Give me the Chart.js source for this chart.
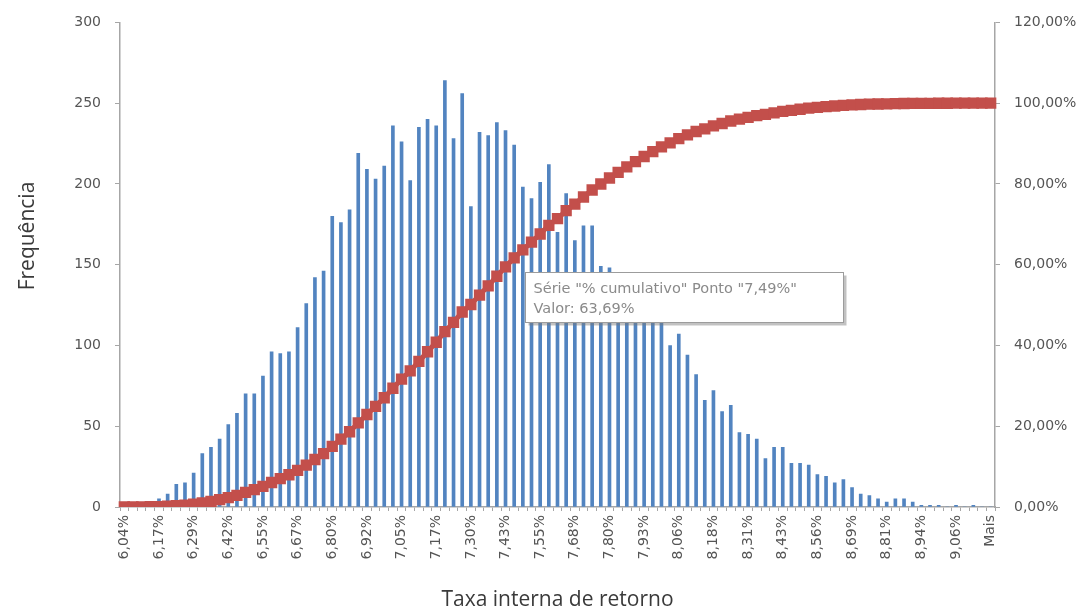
<!DOCTYPE html>
<html>
<head>
<meta charset="utf-8">
<script src="https://cdn.jsdelivr.net/npm/chart.js@4.4.1/dist/chart.umd.min.js"></script>
<style>
  html, body { margin: 0; padding: 0; background: #ffffff; }
  #wrap { width: 1089px; height: 611px; }
</style>
</head>
<body>
<div id="wrap"><canvas id="c" width="1089" height="611"></canvas></div>
<script>
// Histogram bins of the internal rate of return (last bin = "Mais")
const categories = [
  '6,04%','6,07%','6,11%','6,14%','6,17%','6,20%','6,23%','6,26%','6,29%','6,33%',
  '6,36%','6,39%','6,42%','6,45%','6,48%','6,51%','6,55%','6,58%','6,61%','6,64%',
  '6,67%','6,70%','6,73%','6,77%','6,80%','6,83%','6,86%','6,89%','6,92%','6,95%',
  '6,99%','7,02%','7,05%','7,08%','7,11%','7,14%','7,17%','7,21%','7,24%','7,27%',
  '7,30%','7,33%','7,36%','7,40%','7,43%','7,46%','7,49%','7,52%','7,55%','7,58%',
  '7,62%','7,65%','7,68%','7,71%','7,74%','7,77%','7,80%','7,84%','7,87%','7,90%',
  '7,93%','7,96%','7,99%','8,02%','8,06%','8,09%','8,12%','8,15%','8,18%','8,21%',
  '8,24%','8,28%','8,31%','8,34%','8,37%','8,40%','8,43%','8,46%','8,50%','8,53%',
  '8,56%','8,59%','8,62%','8,65%','8,69%','8,72%','8,75%','8,78%','8,81%','8,84%',
  '8,87%','8,91%','8,94%','8,97%','9,00%','9,03%','9,06%','9,09%','9,13%','9,16%',
  'Mais'
];

// Frequency of each bin
const frequencia = [
  1, 0, 2, 3, 5, 8, 14, 15, 21, 33,
  37, 42, 51, 58, 70, 70, 81, 96, 95, 96,
  111, 126, 142, 146, 180, 176, 184, 219, 209, 203,
  211, 236, 226, 202, 235, 240, 236, 264, 228, 256,
  186, 232, 230, 238, 233, 224, 198, 191, 201, 212,
  170, 194, 165, 174, 174, 149, 148, 140, 136, 131,
  126, 120, 116, 100, 107, 94, 82, 66, 72, 59,
  63, 46, 45, 42, 30, 37, 37, 27, 27, 26,
  20, 19, 15, 17, 12, 8, 7, 5, 3, 5,
  5, 3, 1, 1, 1, 0, 1, 0, 1, 0,
  0
];

// "% cumulativo" of each bin
const cumulativo = [
  0.01, 0.01, 0.03, 0.06, 0.11, 0.19, 0.33, 0.48, 0.69, 1.02,
  1.39, 1.81, 2.32, 2.90, 3.60, 4.30, 5.11, 6.07, 7.02, 7.98,
  9.09, 10.35, 11.77, 13.23, 15.03, 16.79, 18.63, 20.82, 22.91, 24.94,
  27.05, 29.41, 31.67, 33.69, 36.04, 38.44, 40.80, 43.44, 45.72, 48.28,
  50.14, 52.46, 54.76, 57.14, 59.47, 61.71, 63.69, 65.60, 67.61, 69.73,
  71.43, 73.37, 75.02, 76.76, 78.50, 79.99, 81.47, 82.87, 84.23, 85.54,
  86.80, 88.00, 89.16, 90.16, 91.23, 92.17, 92.99, 93.65, 94.37, 94.96,
  95.59, 96.05, 96.50, 96.92, 97.22, 97.59, 97.96, 98.23, 98.50, 98.76,
  98.96, 99.15, 99.30, 99.47, 99.59, 99.67, 99.74, 99.79, 99.82, 99.87,
  99.92, 99.95, 99.96, 99.97, 99.98, 99.98, 99.99, 99.99, 100.00, 100.00,
  100.00
];

// Point highlighted by the data tip
const destaque = 46;

const TICK_COLOR = '#555555';
const AXIS_COLOR = '#a6a6a6';
const TICK_FONT = { family: '"DejaVu Sans", sans-serif', size: 14 };

function pct(v) {
  return v.toFixed(2).replace('.', ',') + '%';
}

// Static data tip next to the highlighted cumulative point
const dataTip = {
  id: 'dataTip',
  afterDraw(chart) {
    const pt = chart.getDatasetMeta(1).data[destaque];
    if (!pt) return;
    const ctx = chart.ctx;
    const x = Math.round(pt.x + 2) + 0.5;
    const y = Math.round(pt.y + 22) + 0.5;
    const w = 318, h = 50;
    ctx.save();
    ctx.fillStyle = 'rgba(120,120,120,0.45)';
    ctx.fillRect(x + 3, y + 3, w, h);
    ctx.fillStyle = '#ffffff';
    ctx.fillRect(x, y, w, h);
    ctx.strokeStyle = '#9c9c9c';
    ctx.lineWidth = 1;
    ctx.strokeRect(x, y, w, h);
    ctx.fillStyle = '#8a8a8a';
    ctx.font = '14.5px "DejaVu Sans", sans-serif';
    ctx.textBaseline = 'alphabetic';
    ctx.fillText('S\u00e9rie "% cumulativo" Ponto "' + categories[destaque] + '"', x + 8, y + 20);
    ctx.fillText('Valor: ' + pct(cumulativo[destaque]), x + 8, y + 40);
    ctx.restore();
  }
};

// Left axis title, drawn a little above the plot centre
const freqTitle = {
  id: 'freqTitle',
  afterDraw(chart) {
    const ctx = chart.ctx;
    ctx.save();
    ctx.translate(28, 236);
    ctx.rotate(-Math.PI / 2);
    ctx.fillStyle = '#3a3a3a';
    ctx.font = '21px "Open Sans", sans-serif';
    ctx.textAlign = 'center';
    ctx.textBaseline = 'middle';
    ctx.fillText('Frequ\u00eancia', 0, 0);
    ctx.restore();
  }
};

new Chart(document.getElementById('c'), {
  data: {
    labels: categories,
    datasets: [
      {
        type: 'bar',
        label: 'Frequência',
        data: frequencia,
        yAxisID: 'y',
        backgroundColor: '#5284c0',
        borderWidth: 0,
        barThickness: 3,
        order: 2
      },
      {
        type: 'line',
        label: '% cumulativo',
        data: cumulativo,
        yAxisID: 'y1',
        borderColor: '#c0504d',
        borderWidth: 5,
        pointStyle: 'rect',
        pointRadius: 8,
        pointBackgroundColor: '#c34f4b',
        pointBorderColor: '#c34f4b',
        pointBorderWidth: 0,
        tension: 0,
        order: 1
      }
    ]
  },
  options: {
    responsive: false,
    animation: false,
    layout: { padding: { top: 22, left: 0, right: 0, bottom: 0 } },
    plugins: {
      legend: { display: false },
      tooltip: { enabled: false }
    },
    scales: {
      x: {
        offset: true,
        grid: { display: true, drawOnChartArea: false, drawTicks: true, tickLength: 4, color: AXIS_COLOR, offset: true },
        border: { display: true, color: AXIS_COLOR, width: 1.5 },
        ticks: {
          autoSkip: false,
          maxRotation: 90,
          minRotation: 90,
          padding: 4,
          color: TICK_COLOR,
          font: TICK_FONT,
          callback: function (v, i) { return i % 4 === 0 ? categories[i] : ''; }
        },
        title: {
          display: true,
          text: 'Taxa interna de retorno',
          color: '#3a3a3a',
          font: { family: '"Open Sans", sans-serif', size: 21, lineHeight: 1 },
          padding: { top: 0, bottom: 0 }
        },
        afterFit: function (s) { s.height = 104; }
      },
      y: {
        position: 'left',
        min: 0,
        max: 300,
        ticks: {
          stepSize: 50,
          padding: 14,
          color: TICK_COLOR,
          font: TICK_FONT
        },
        grid: { drawOnChartArea: false, drawTicks: true, tickLength: 5, color: AXIS_COLOR },
        border: { display: true, color: AXIS_COLOR, width: 1.5 },
        afterFit: function (s) { s.width = 120; }
      },
      y1: {
        position: 'right',
        min: 0,
        max: 120,
        ticks: {
          stepSize: 20,
          padding: 14,
          color: TICK_COLOR,
          font: TICK_FONT,
          callback: function (v) { return pct(v); }
        },
        grid: { drawOnChartArea: false, drawTicks: true, tickLength: 5, color: AXIS_COLOR },
        border: { display: true, color: AXIS_COLOR, width: 1.5 },
        afterFit: function (s) { s.width = 94; }
      }
    }
  },
  plugins: [dataTip, freqTitle]
});
</script>
</body>
</html>
